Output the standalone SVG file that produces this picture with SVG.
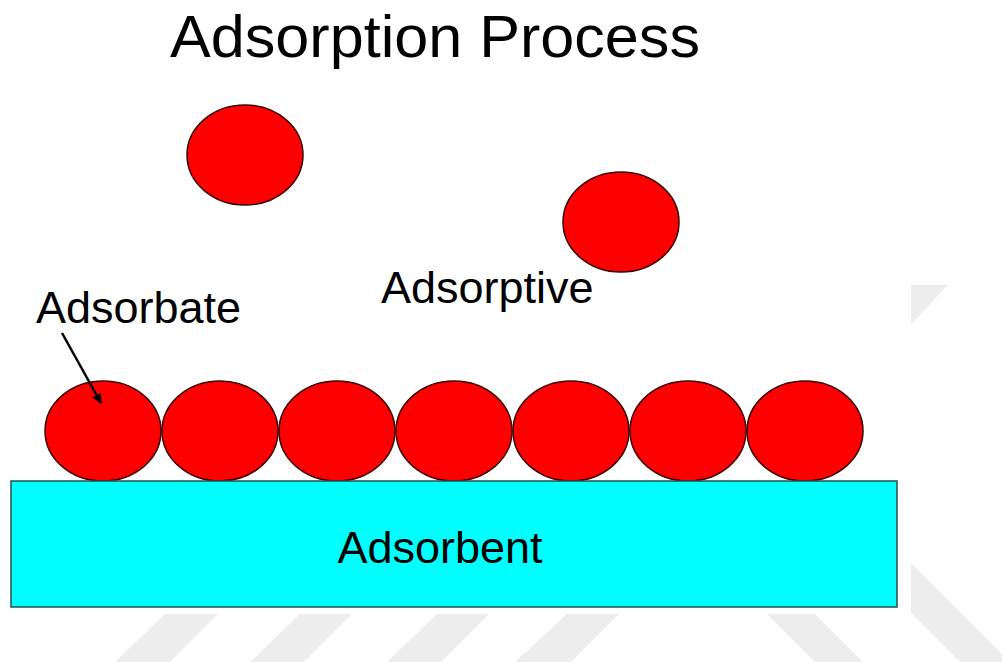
<svg xmlns="http://www.w3.org/2000/svg" width="1002" height="662" viewBox="0 0 1002 662">
<defs>
<style>
.wm{fill:#ededed;stroke:none}
.mol{fill:#ff0000;stroke:#3a0000;stroke-width:1.5}
.lbl{font-family:"Liberation Sans",Arial,sans-serif;fill:#000}
</style>
<marker id="ah" viewBox="0 0 10 10" refX="9" refY="5" markerWidth="4" markerHeight="4" orient="auto" markerUnits="strokeWidth">
<path d="M0,0 L10,5 L0,10 z" fill="#000"/>
</marker>
</defs>
<rect width="1002" height="662" fill="#fff"/>
<g id="watermark">
<polygon class="wm" points="165,614 218,614 170,662 115,662"/>
<polygon class="wm" points="300,614 352,614 304,662 250,662"/>
<polygon class="wm" points="437,614 489,614 441,662 387,662"/>
<polygon class="wm" points="567,614 619,614 571,662 515,662"/>
<polygon class="wm" points="767,614 815,614 863,662 815,662"/>
<polygon class="wm" points="911,563 1002,654 1002,662 960,662 912,614 911,614"/>
<polygon class="wm" points="911,285 948,285 911,324"/>
</g>
<text class="lbl" x="170" y="57" font-size="60" textLength="530" lengthAdjust="spacingAndGlyphs">Adsorption Process</text>
<g id="free-molecules">
<ellipse class="mol" cx="245" cy="155" rx="58" ry="50"/>
<ellipse class="mol" cx="621" cy="222" rx="58" ry="50"/>
</g>
<g id="adsorbate-layer">
<ellipse class="mol" cx="103" cy="431" rx="58" ry="50"/>
<ellipse class="mol" cx="220" cy="431" rx="58" ry="50"/>
<ellipse class="mol" cx="337" cy="431" rx="58" ry="50"/>
<ellipse class="mol" cx="454" cy="431" rx="58" ry="50"/>
<ellipse class="mol" cx="571" cy="431" rx="58" ry="50"/>
<ellipse class="mol" cx="688" cy="431" rx="58" ry="50"/>
<ellipse class="mol" cx="805" cy="431" rx="58" ry="50"/>
</g>
<g id="adsorbent">
<rect x="11" y="481" width="886" height="126" fill="#00ffff" stroke="#2a4d50" stroke-width="1.5"/>
<text class="lbl" x="440" y="563" font-size="45" text-anchor="middle">Adsorbent</text>
</g>
<g id="adsorptive-label">
<text class="lbl" x="381" y="303" font-size="45">Adsorptive</text>
</g>
<g id="adsorbate-label">
<text class="lbl" x="36" y="323" font-size="45">Adsorbate</text>
</g>
<g id="connectors">
<line x1="62" y1="333" x2="101" y2="403" stroke="#000" stroke-width="2.5" marker-end="url(#ah)"/>
</g>
</svg>
